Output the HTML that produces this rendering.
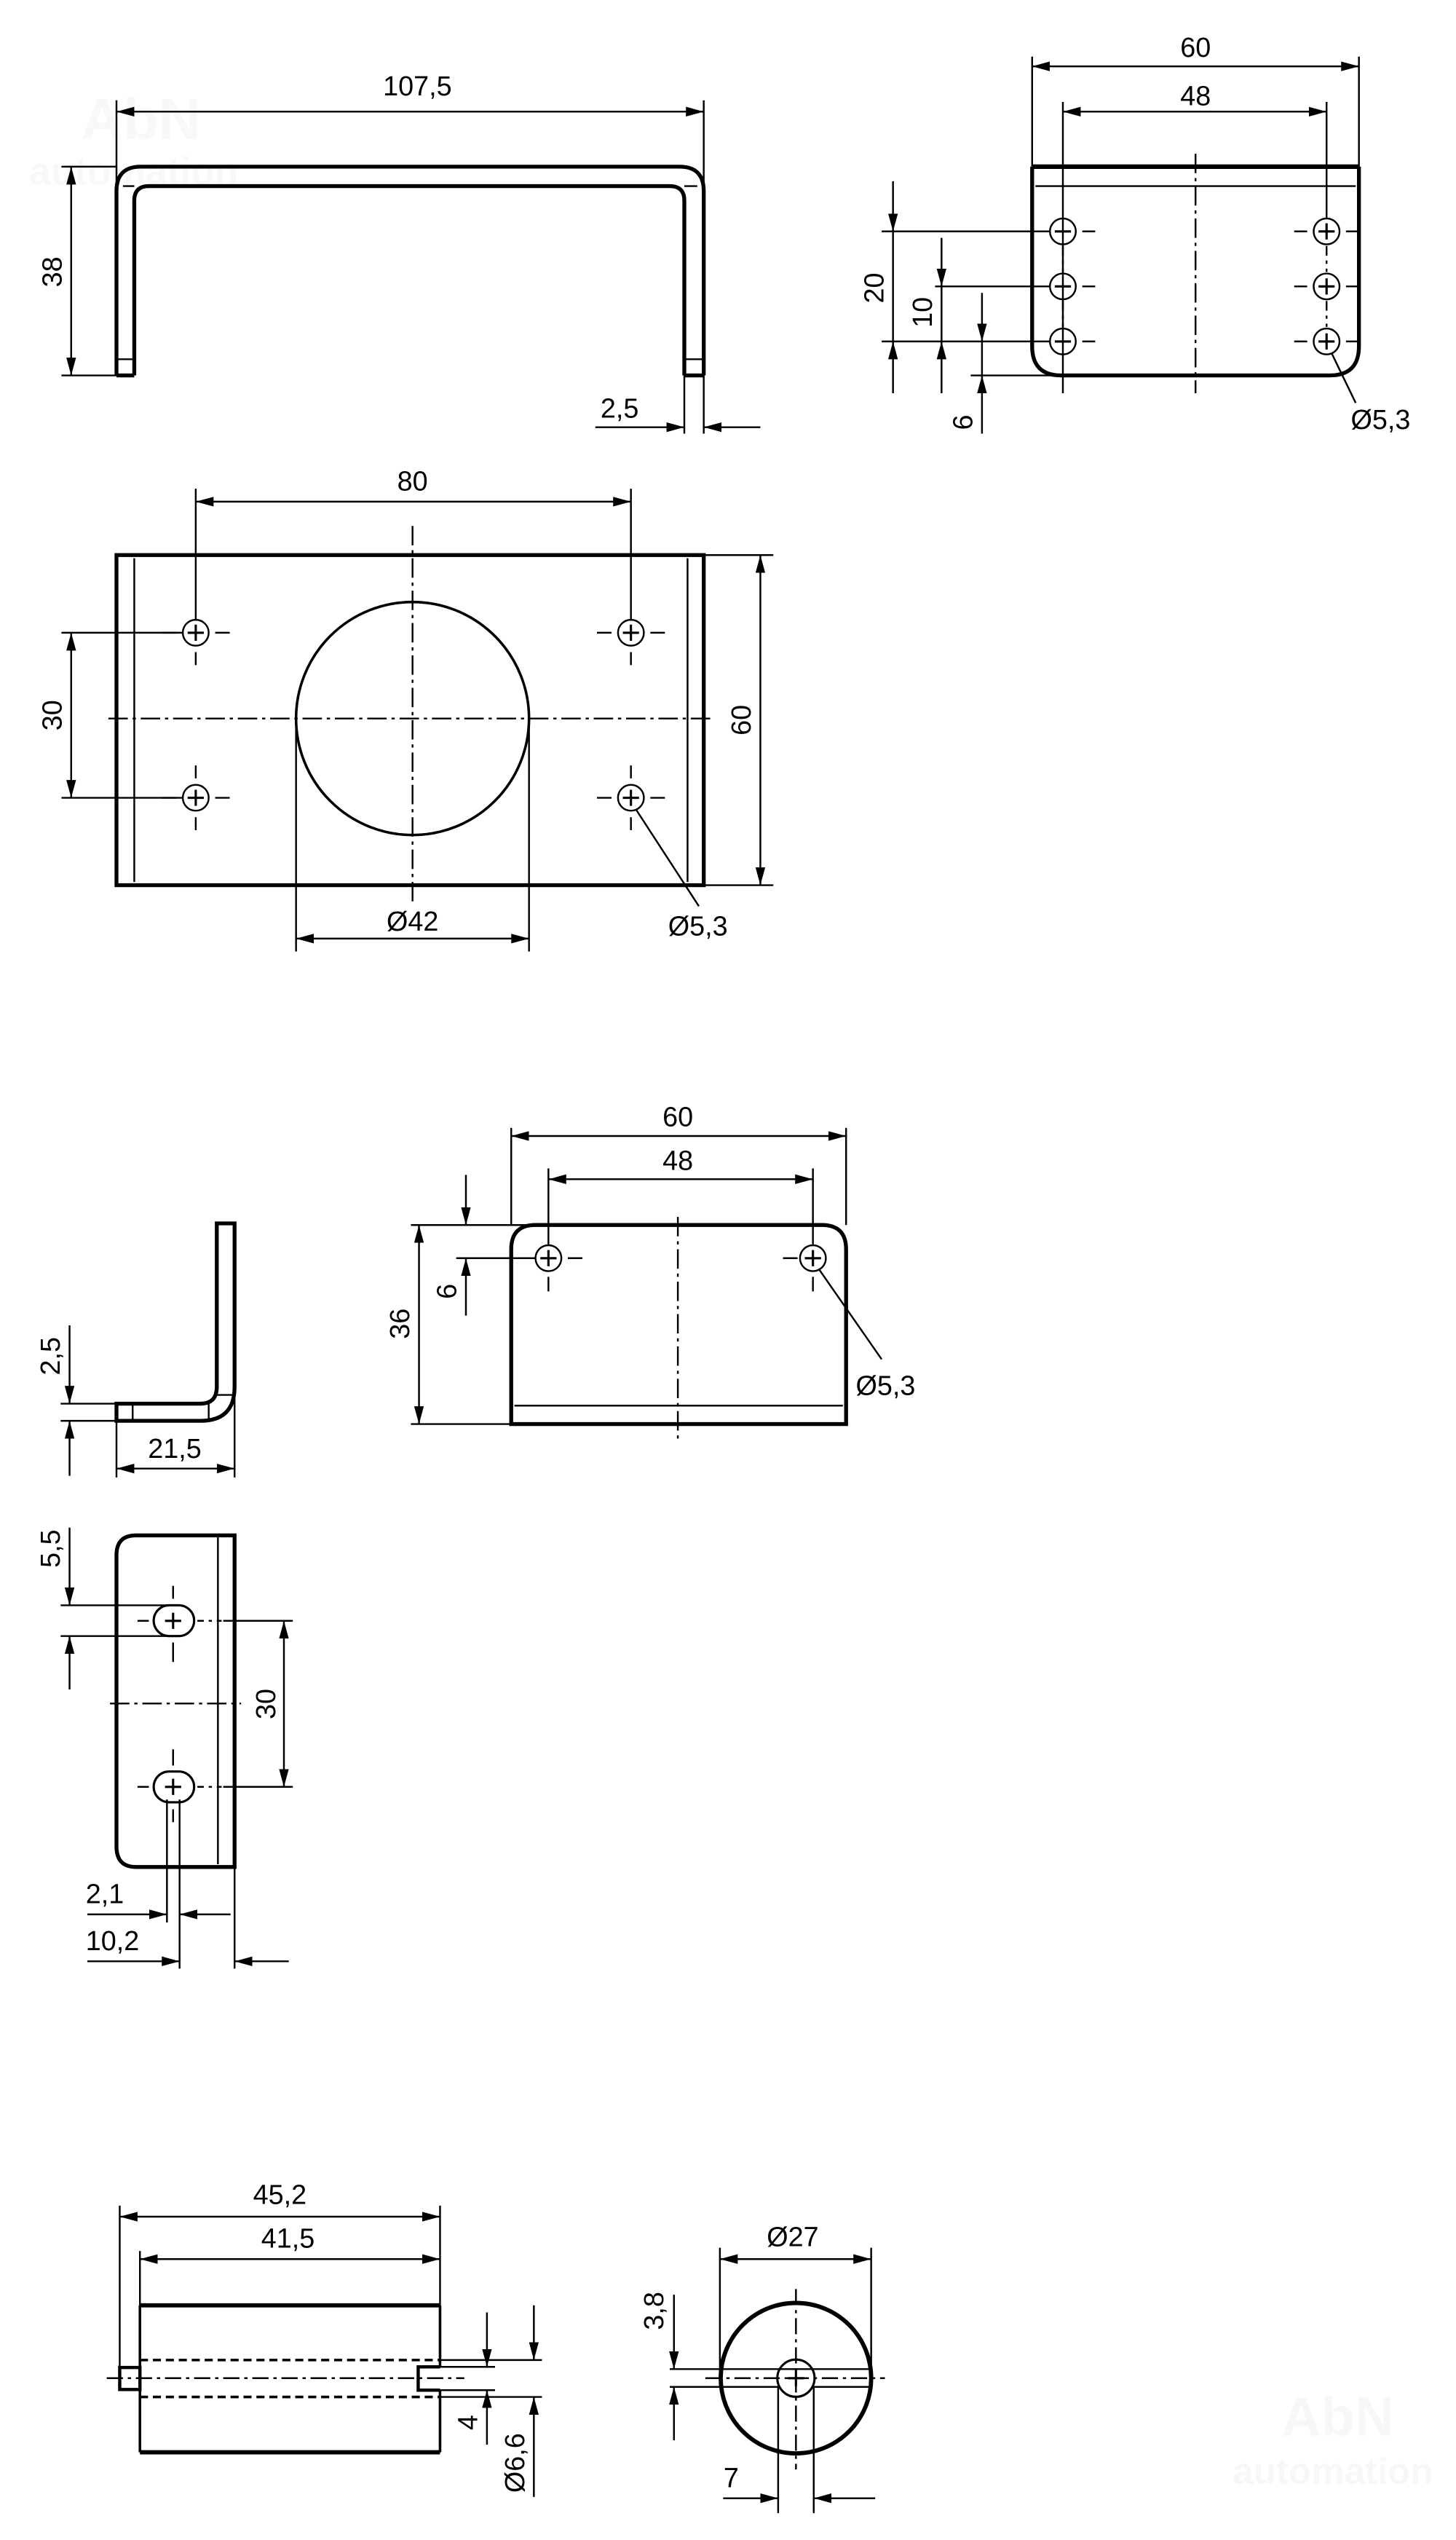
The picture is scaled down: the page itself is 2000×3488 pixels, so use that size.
<!DOCTYPE html>
<html><head><meta charset="utf-8"><style>
html,body{margin:0;padding:0;background:#fff;}
svg{display:block;}
text{font-family:"Liberation Sans",sans-serif;font-size:17px;fill:#000;}
</style></head><body>
<svg width="2000" height="3488" viewBox="0 0 900 1569.6" preserveAspectRatio="none" xmlns="http://www.w3.org/2000/svg">
<defs>
<marker id="a" markerUnits="userSpaceOnUse" markerWidth="12" markerHeight="7" refX="11" refY="3" orient="auto-start-reverse"><path d="M0,0 L11,3 L0,6 z" fill="#000"/></marker>
</defs>
<g fill="none" stroke="#000" stroke-width="1.1">
<!-- watermarks -->
<g stroke="none">
<text x="50" y="86" style="font-size:36px;font-weight:bold;fill:#f8f8f8">AbN</text>
<text x="18" y="114" style="font-size:24px;font-weight:bold;fill:#f8f8f8">automation</text>
<text x="792" y="1505" style="font-size:34px;font-weight:bold;fill:#f7f7f7">AbN</text>
<text x="762" y="1535" style="font-size:23px;font-weight:bold;fill:#f7f7f7">automation</text>
</g>

<!-- ===== Drawing 1: U bracket ===== -->
<path d="M72,232 V118 Q72,103 87,103 H420 Q435,103 435,118 V232" stroke-width="2.4"/>
<path d="M83,232 V124 Q83,115 92,115 H414 Q423,115 423,124 V232" stroke-width="2.4"/>
<path d="M72,232 H83 M423,232 H435" stroke-width="2.4"/>
<path d="M72,222 H83 M423,222 H435 M76,115 H83 M423,115 H431"/>
<path d="M72,62 V232 M435,62 V268 M423,232 V268"/>
<line x1="72" y1="69" x2="435" y2="69" marker-start="url(#a)" marker-end="url(#a)"/>
<path d="M38,103 H72 M38,232 H72"/>
<line x1="44" y1="103" x2="44" y2="232" marker-start="url(#a)" marker-end="url(#a)"/>
<line x1="368" y1="264" x2="423" y2="264" marker-end="url(#a)"/>
<line x1="470" y1="264" x2="435" y2="264" marker-end="url(#a)"/>
<g stroke="none"><text x="258" y="59" text-anchor="middle">107,5</text>
<text transform="translate(38,168) rotate(-90)" text-anchor="middle">38</text>
<text x="383" y="258" text-anchor="middle">2,5</text></g>

<!-- ===== Drawing 2: top right plate ===== -->
<path d="M638,103 V214 Q638,232 656,232 H822 Q840,232 840,214 V103" stroke-width="2.4"/>
<path d="M638,103 H840" stroke-width="2.8"/>
<path d="M640,115 H838"/>
<path d="M739,95 V243" stroke-dasharray="12 3 2 3"/>
<g>
<circle cx="657" cy="143" r="8"/><circle cx="657" cy="177" r="8"/><circle cx="657" cy="211" r="8"/>
<circle cx="820" cy="143" r="8"/><circle cx="820" cy="177" r="8"/><circle cx="820" cy="211" r="8"/>
<path d="M652,143 H662 M652,177 H662 M652,211 H662 M815,143 H825 M815,177 H825 M815,211 H825 M820,138 V148 M820,172 V182 M820,206 V216" stroke-width="1.4"/>
<path d="M669,143 H677 M669,177 H677 M669,211 H677 M800,143 H808 M800,177 H808 M800,211 H808 M832,143 H840 M832,177 H840 M832,211 H840"/>
<path d="M657,152 V168 M657,186 V202 M820,152 V168 M820,186 V202" stroke-dasharray="6 3 2 3"/>
</g>
<path d="M638,35 V103 M840,35 V103 M657,63 V243 M820,63 V135"/>
<line x1="638" y1="41" x2="840" y2="41" marker-start="url(#a)" marker-end="url(#a)"/>
<line x1="657" y1="69" x2="820" y2="69" marker-start="url(#a)" marker-end="url(#a)"/>
<path d="M545,143 H649 M545,211 H649 M578,177 H649 M600,232 H660"/>
<line x1="552" y1="112" x2="552" y2="143" marker-end="url(#a)"/>
<line x1="552" y1="143" x2="552" y2="211"/>
<line x1="552" y1="243" x2="552" y2="211" marker-end="url(#a)"/>
<line x1="582" y1="147" x2="582" y2="177" marker-end="url(#a)"/>
<line x1="582" y1="177" x2="582" y2="211"/>
<line x1="582" y1="243" x2="582" y2="211" marker-end="url(#a)"/>
<line x1="607" y1="181" x2="607" y2="211" marker-end="url(#a)"/>
<line x1="607" y1="211" x2="607" y2="232"/>
<line x1="607" y1="268" x2="607" y2="232" marker-end="url(#a)"/>
<path d="M823,218 L838,249"/>
<g stroke="none"><text x="739" y="35" text-anchor="middle">60</text>
<text x="739" y="65" text-anchor="middle">48</text>
<text transform="translate(546,178) rotate(-90)" text-anchor="middle">20</text>
<text transform="translate(576,193) rotate(-90)" text-anchor="middle">10</text>
<text transform="translate(601,261) rotate(-90)" text-anchor="middle">6</text>
<text x="835" y="265">Ø5,3</text></g>

<!-- ===== Drawing 3: plate with big hole ===== -->
<rect x="72" y="343" width="363" height="204" stroke-width="2.4"/>
<path d="M83,345 V545 M425,345 V545"/>
<circle cx="255" cy="444" r="72" stroke-width="1.6"/>
<path d="M67,444 H440" stroke-dasharray="12 3 2 3"/>
<path d="M255,325 V560" stroke-dasharray="12 3 2 3"/>
<g>
<circle cx="121" cy="391" r="8"/><circle cx="390" cy="391" r="8"/><circle cx="121" cy="493" r="8"/><circle cx="390" cy="493" r="8"/>
<path d="M116,391 H126 M385,391 H395 M116,493 H126 M385,493 H395 M121,386 V396 M390,386 V396 M121,488 V498 M390,488 V498" stroke-width="1.4"/>
<path d="M133,391 H142 M100,391 H109 M369,391 H378 M402,391 H411 M133,493 H142 M100,493 H109 M369,493 H378 M402,493 H411 M121,403 V411 M390,403 V411 M121,473 V481 M390,473 V481 M121,505 V513 M390,505 V513"/>
</g>
<path d="M121,302 V383 M390,302 V383"/>
<line x1="121" y1="310" x2="390" y2="310" marker-start="url(#a)" marker-end="url(#a)"/>
<path d="M38,391 H113 M38,493 H113"/>
<line x1="44" y1="391" x2="44" y2="493" marker-start="url(#a)" marker-end="url(#a)"/>
<path d="M435,343 H478 M435,547 H478"/>
<line x1="470" y1="343" x2="470" y2="547" marker-start="url(#a)" marker-end="url(#a)"/>
<path d="M183,444 V588 M327,444 V588"/>
<line x1="183" y1="580" x2="327" y2="580" marker-start="url(#a)" marker-end="url(#a)"/>
<path d="M393,500 L432,560"/>
<g stroke="none"><text x="255" y="303" text-anchor="middle">80</text>
<text transform="translate(38,442) rotate(-90)" text-anchor="middle">30</text>
<text transform="translate(464,445) rotate(-90)" text-anchor="middle">60</text>
<text x="255" y="575" text-anchor="middle">Ø42</text>
<text x="413" y="578">Ø5,3</text></g>

<!-- ===== Drawing 4: L profile ===== -->
<path d="M134,756 H145 V857 Q145,878 124,878 H72 V867.4 H124 Q134,867.4 134,857 Z" stroke-width="2.4"/>
<path d="M82,867.4 V878 M129,867.4 V878 M134,862 H145"/>
<path d="M37.5,867.4 H72 M37.5,878 H72 M72,878 V913 M145,862 V913"/>
<line x1="43" y1="819" x2="43" y2="867.4" marker-end="url(#a)"/>
<line x1="43" y1="912" x2="43" y2="878" marker-end="url(#a)"/>
<line x1="72" y1="907.5" x2="145" y2="907.5" marker-start="url(#a)" marker-end="url(#a)"/>
<g stroke="none"><text transform="translate(37,838) rotate(-90)" text-anchor="middle">2,5</text>
<text x="108" y="901" text-anchor="middle">21,5</text></g>

<!-- ===== Drawing 5: plate 60x36 ===== -->
<path d="M316,880 V772 Q316,757 331,757 H508 Q523,757 523,772 V880 Z" stroke-width="2.4"/>
<path d="M318,868.6 H521"/>
<path d="M419,752 V889" stroke-dasharray="12 3 2 3"/>
<circle cx="339" cy="777.5" r="8"/><circle cx="502.5" cy="777.5" r="8"/>
<path d="M334,777.5 H344 M339,772.5 V782.5 M497.5,777.5 H507.5 M502.5,772.5 V782.5" stroke-width="1.4"/>
<path d="M351,777.5 H360 M484,777.5 H493 M339,789 V798 M502.5,789 V798"/>
<path d="M316,697 V757 M523,697 V757 M339,722 V769 M502.5,722 V769"/>
<line x1="316" y1="702" x2="523" y2="702" marker-start="url(#a)" marker-end="url(#a)"/>
<line x1="339" y1="728.7" x2="502.5" y2="728.7" marker-start="url(#a)" marker-end="url(#a)"/>
<path d="M254,757 H331 M254,880 H316 M282,777.5 H331"/>
<line x1="259" y1="757" x2="259" y2="880" marker-start="url(#a)" marker-end="url(#a)"/>
<line x1="288" y1="726" x2="288" y2="757" marker-end="url(#a)"/>
<line x1="288" y1="813" x2="288" y2="777.5" marker-end="url(#a)"/>
<path d="M506,784 L545,840"/>
<g stroke="none"><text x="419" y="696" text-anchor="middle">60</text>
<text x="419" y="723" text-anchor="middle">48</text>
<text transform="translate(253,818) rotate(-90)" text-anchor="middle">36</text>
<text transform="translate(282,798) rotate(-90)" text-anchor="middle">6</text>
<text x="529" y="862">Ø5,3</text></g>

<!-- ===== Drawing 6: side plate with slots ===== -->
<path d="M145,948.8 V1153.7 H84 Q72,1153.7 72,1141 V961 Q72,948.8 84,948.8 Z" stroke-width="2.4"/>
<path d="M134.7,950 V1152"/>
<rect x="95" y="992" width="25" height="19" rx="9.5" stroke-width="1.4"/>
<rect x="95" y="1094.7" width="25" height="19" rx="9.5" stroke-width="1.4"/>
<path d="M102,1001.6 H112 M107,996.6 V1006.6 M102,1104.2 H112 M107,1099.2 V1109.2" stroke-width="1.4"/>
<path d="M107,980 V988 M107,1015 V1027 M107,1081 V1091 M107,1118 V1126 M85,1001.6 H92 M85,1104.2 H92"/>
<path d="M122,1001.6 H137 M122,1104.2 H137" stroke-dasharray="4 3 2 3"/>
<path d="M68,1052.7 H149" stroke-dasharray="12 3 2 3"/>
<path d="M37.5,992 H107 M37.5,1011 H107"/>
<line x1="43" y1="944" x2="43" y2="992" marker-end="url(#a)"/>
<line x1="43" y1="1044" x2="43" y2="1011" marker-end="url(#a)"/>
<path d="M138,1001.6 H181 M138,1104.2 H181"/>
<line x1="175.5" y1="1001.6" x2="175.5" y2="1104.2" marker-start="url(#a)" marker-end="url(#a)"/>
<path d="M103.2,1112 V1188 M111,1112 V1216.5 M145,1153.7 V1216.5"/>
<line x1="54" y1="1183" x2="103.2" y2="1183" marker-end="url(#a)"/>
<line x1="142.5" y1="1183" x2="111" y2="1183" marker-end="url(#a)"/>
<line x1="54" y1="1212" x2="111" y2="1212" marker-end="url(#a)"/>
<line x1="178.5" y1="1212" x2="145" y2="1212" marker-end="url(#a)"/>
<g stroke="none"><text transform="translate(37,957) rotate(-90)" text-anchor="middle">5,5</text>
<text transform="translate(170,1053) rotate(-90)" text-anchor="middle">30</text>
<text x="53" y="1176">2,1</text>
<text x="53" y="1205">10,2</text></g>

<!-- ===== Drawing 7: cylinder side view ===== -->
<path d="M86.5,1424.6 H272 M86.5,1515.4 H272" stroke-width="2.6"/>
<path d="M86.5,1424.6 V1463 M86.5,1476.6 V1515.4 M272,1424.6 V1462.6 M272,1477 V1515.4" stroke-width="1.6"/>
<rect x="74" y="1463" width="12.5" height="13.6" stroke-width="2"/>
<path d="M272,1462.6 H258.5 V1477 H272" stroke-width="2"/>
<path d="M86.5,1458.4 H272 M86.5,1481.2 H272" stroke-width="1.6" stroke-dasharray="5 3"/>
<path d="M66,1469.6 H287" stroke-dasharray="10 3 2 3"/>
<path d="M272,1458.4 H335 M272,1481.2 H335 M272,1462.6 H306 M272,1477 H306"/>
<path d="M74,1363 V1463 M86.5,1391 V1424.6 M272,1363 V1424.6"/>
<line x1="74" y1="1369.8" x2="272" y2="1369.8" marker-start="url(#a)" marker-end="url(#a)"/>
<line x1="86.5" y1="1396" x2="272" y2="1396" marker-start="url(#a)" marker-end="url(#a)"/>
<line x1="301" y1="1429" x2="301" y2="1462.6" marker-end="url(#a)"/>
<line x1="301" y1="1510.7" x2="301" y2="1477" marker-end="url(#a)"/>
<line x1="330" y1="1424.6" x2="330" y2="1458.4" marker-end="url(#a)"/>
<line x1="330" y1="1543" x2="330" y2="1481.2" marker-end="url(#a)"/>
<g stroke="none"><text x="173" y="1362" text-anchor="middle">45,2</text>
<text x="178" y="1389" text-anchor="middle">41,5</text>
<text transform="translate(295,1497) rotate(-90)" text-anchor="middle">4</text>
<text transform="translate(324,1522) rotate(-90)" text-anchor="middle">Ø6,6</text></g>

<!-- ===== Drawing 8: cylinder end view ===== -->
<circle cx="492" cy="1469.6" r="46.5" stroke-width="2.6"/>
<circle cx="492" cy="1469.6" r="11.5" stroke-width="1.4"/>
<path d="M487,1469.6 H497 M492,1464.6 V1474.6" stroke-width="1.4"/>
<path d="M436,1469.6 H547" stroke-dasharray="10 3 2 3"/>
<path d="M492,1414.5 V1526" stroke-dasharray="10 3 2 3"/>
<path d="M414,1464 H537 M414,1475 H481 M503,1475 H537"/>
<path d="M481,1475 V1553 M503,1475 V1553"/>
<path d="M445,1389 V1469 M538.5,1389 V1469"/>
<line x1="445" y1="1396" x2="538.5" y2="1396" marker-start="url(#a)" marker-end="url(#a)"/>
<line x1="416.6" y1="1418" x2="416.6" y2="1464" marker-end="url(#a)"/>
<line x1="416.6" y1="1508" x2="416.6" y2="1475" marker-end="url(#a)"/>
<line x1="447" y1="1543.8" x2="481" y2="1543.8" marker-end="url(#a)"/>
<line x1="541" y1="1543.8" x2="503" y2="1543.8" marker-end="url(#a)"/>
<g stroke="none"><text x="490" y="1388" text-anchor="middle">Ø27</text>
<text transform="translate(410,1428) rotate(-90)" text-anchor="middle">3,8</text>
<text x="452" y="1537" text-anchor="middle">7</text></g>
</g>
</svg>
</body></html>
